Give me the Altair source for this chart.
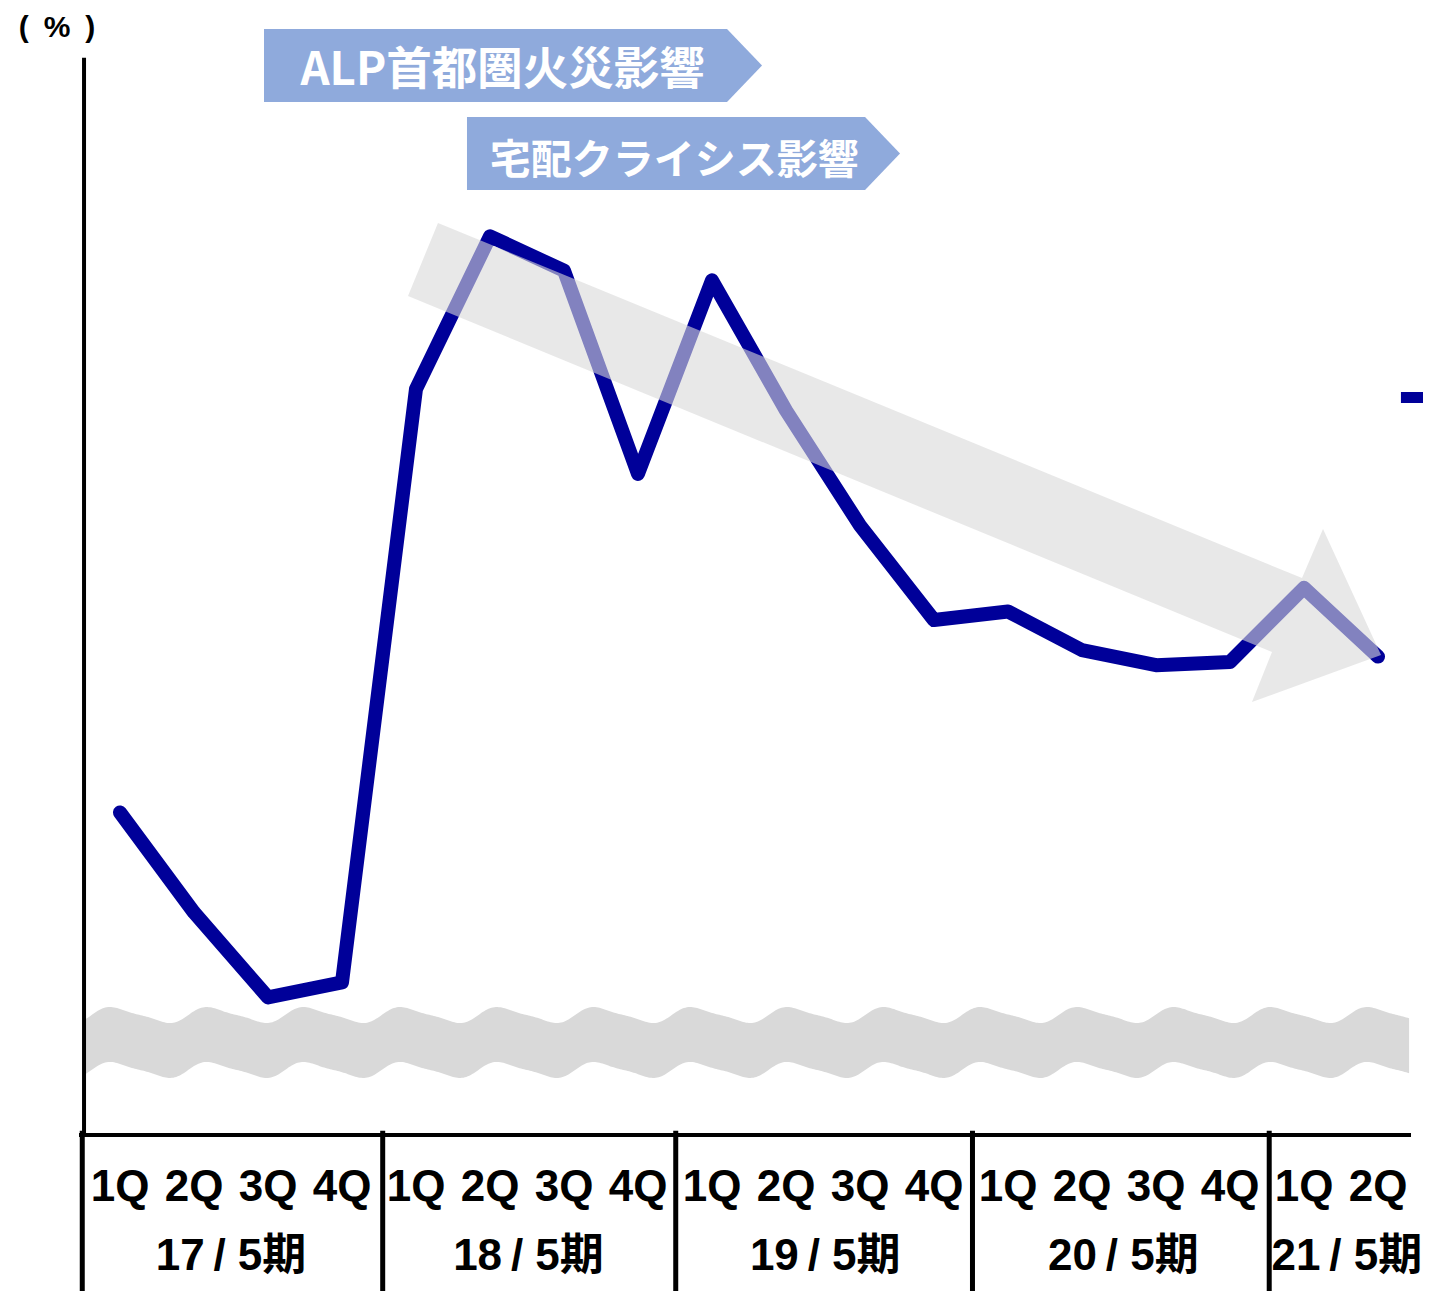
import altair as alt
import numpy as np
import pandas as pd

# ---------------- data ----------------
quarters = ["1Q", "2Q", "3Q", "4Q", "1Q", "2Q", "3Q", "4Q", "1Q", "2Q", "3Q", "4Q",
            "1Q", "2Q", "3Q", "4Q", "1Q", "2Q"]
values = [3.00, 2.07, 1.28, 1.42, 6.94, 8.36, 8.04, 6.15, 7.95, 6.74, 5.67, 4.79,
          4.87, 4.51, 4.37, 4.40, 5.09, 4.45]
periods = ["17\u2009/ 5期", "18\u2009/ 5期", "19\u2009/ 5期", "20\u2009/ 5期", "21\u2009/ 5期"]
period_pos = [1.5, 5.52, 9.53, 13.56, 16.58]
separator_pos = [-0.51, 3.55, 7.51, 11.52, 15.53]
banner_texts = ["ALP首都圏火災影響", "宅配クライシス影響"]
unit_label = "(\u2002%\u2002)"

# annotation geometry (in data units: x = quarter index, y = value)
banner_x = [[1.946, 8.203, 8.676], [4.689, 10.068, 10.541]]
banner_top = [[10.288, 10.288, 9.949], [9.470, 9.470, 9.130]]
banner_bot = [[9.609, 9.609, 9.949], [8.791, 8.791, 9.130]]
banner_text_x = [5.17, 7.49]
banner_text_y = [9.767, 8.94]
banner_text_size = [45.5, 41]

arrow_x = [3.892, 4.297, 15.973, 16.257, 17.041, 15.297, 15.568]
arrow_y = [7.805, 8.484, 5.181, 5.637, 4.465, 4.028, 4.493]

X_DOM = [-1.5135, 17.6081]
Y_DOM = [-1.4512, 10.4837]

FONT = "Liberation Sans, Noto Sans CJK JP"
CJK = "Noto Sans CJK JP"
BLUE = "#000099"


def X(f="x"):
    return alt.X(f"{f}:Q", scale=alt.Scale(domain=X_DOM, nice=False, zero=False), axis=None)


def Y(f="y"):
    return alt.Y(f"{f}:Q", scale=alt.Scale(domain=Y_DOM, nice=False, zero=False), axis=None)


# ---------------- tables ----------------
line_df = pd.DataFrame({"x": list(range(len(values))), "y": values, "q": quarters})

# axis-break wavy band (decoration)
wx = np.arange(-0.46, 17.431, 0.02)
theta = 2 * np.pi * (74 * wx + 10) / 96.7 - 1.946
shape = np.sin(theta) - 0.25 * np.sin(2 * theta)
amp = 7.27 / 107.5
wave_df = pd.DataFrame({"x": wx, "y": 1.116 - amp * shape, "y2": 0.605 - amp * shape})

arrow_df = pd.DataFrame({"x": arrow_x, "y": arrow_y, "k": list(range(len(arrow_x)))})

brows = []
for b in range(2):
    for xx, t, bt in zip(banner_x[b], banner_top[b], banner_bot[b]):
        brows.append({"x": xx, "y": t, "y2": bt, "b": b})
banner_df = pd.DataFrame(brows)
btext_df = pd.DataFrame({"x": banner_text_x, "y": banner_text_y, "t": banner_texts,
                         "fs": banner_text_size})

qlab_df = pd.DataFrame({"x": list(range(len(quarters))), "y": [-0.614] * len(quarters), "t": quarters})
plab_df = pd.DataFrame({"x": period_pos, "y": [-1.256] * len(periods), "t": periods})
unit_df = pd.DataFrame({"x": [-0.851], "y": [10.214], "t": [unit_label]})

yaxis_df = pd.DataFrame({"x": [-0.486], "y": [0.0], "y2": [10.02]})
xaxis_df = pd.DataFrame({"x": [-0.554], "x2": [17.446], "y": [0.0]})
sep_df = pd.DataFrame({"x": separator_pos, "y": [0.04] * len(separator_pos),
                       "y2": [-1.47] * len(separator_pos)})
legend_df = pd.DataFrame({"x": [17.31], "x2": [17.75], "y": [6.86]})

# ---------------- layers ----------------
wave = alt.Chart(wave_df).mark_area(color="#d9d9d9").encode(x=X(), y=Y(), y2="y2:Q")

line = alt.Chart(line_df).mark_line(color=BLUE, strokeWidth=14, strokeCap="round",
                                    strokeJoin="round").encode(x=X(), y=Y())

arrow = alt.Chart(arrow_df).mark_line(filled=True, fill="#d9d9d9", fillOpacity=0.6,
                                      strokeOpacity=0, interpolate="linear-closed").encode(
    x=X(), y=Y(), order=alt.Order("k:Q"))

banners = alt.Chart(banner_df).mark_area(color="#8faadc").encode(
    x=X(), y=Y(), y2="y2:Q", detail="b:N")

btext = alt.Chart(btext_df).mark_text(font=CJK, fontWeight="bold", color="white",
                                      align="center", baseline="alphabetic").encode(
    x=X(), y=Y(), text="t:N", size=alt.Size("fs:Q", scale=None, legend=None))

yaxis = alt.Chart(yaxis_df).mark_rule(color="black", strokeWidth=4).encode(x=X(), y=Y(), y2="y2:Q")
xaxis = alt.Chart(xaxis_df).mark_rule(color="black", strokeWidth=4).encode(x=X(), x2="x2:Q", y=Y())
seps = alt.Chart(sep_df).mark_rule(color="black", strokeWidth=5).encode(x=X(), y=Y(), y2="y2:Q")

qlab = alt.Chart(qlab_df).mark_text(font=FONT, fontWeight="bold", fontSize=44, color="black",
                                    align="center", baseline="alphabetic").encode(
    x=X(), y=Y(), text="t:N")
plab = alt.Chart(plab_df).mark_text(font=FONT, fontWeight="bold", fontSize=44, color="black",
                                    align="center", baseline="alphabetic").encode(
    x=X(), y=Y(), text="t:N")
unit = alt.Chart(unit_df).mark_text(font=FONT, fontWeight="bold", fontSize=30, color="black",
                                    align="center", baseline="alphabetic").encode(
    x=X(), y=Y(), text="t:N")

legend = alt.Chart(legend_df).mark_rule(color=BLUE, strokeWidth=11).encode(x=X(), x2="x2:Q", y=Y())

chart = alt.layer(
    wave, line, arrow, banners, btext, yaxis, xaxis, seps, qlab, plab, unit, legend
).properties(
    width=1415, height=1283, padding=0, autosize=alt.AutoSizeParams(type="none")
).configure_view(strokeWidth=0)

chart.save("out.html", embed_options={"renderer": "svg", "actions": False})
